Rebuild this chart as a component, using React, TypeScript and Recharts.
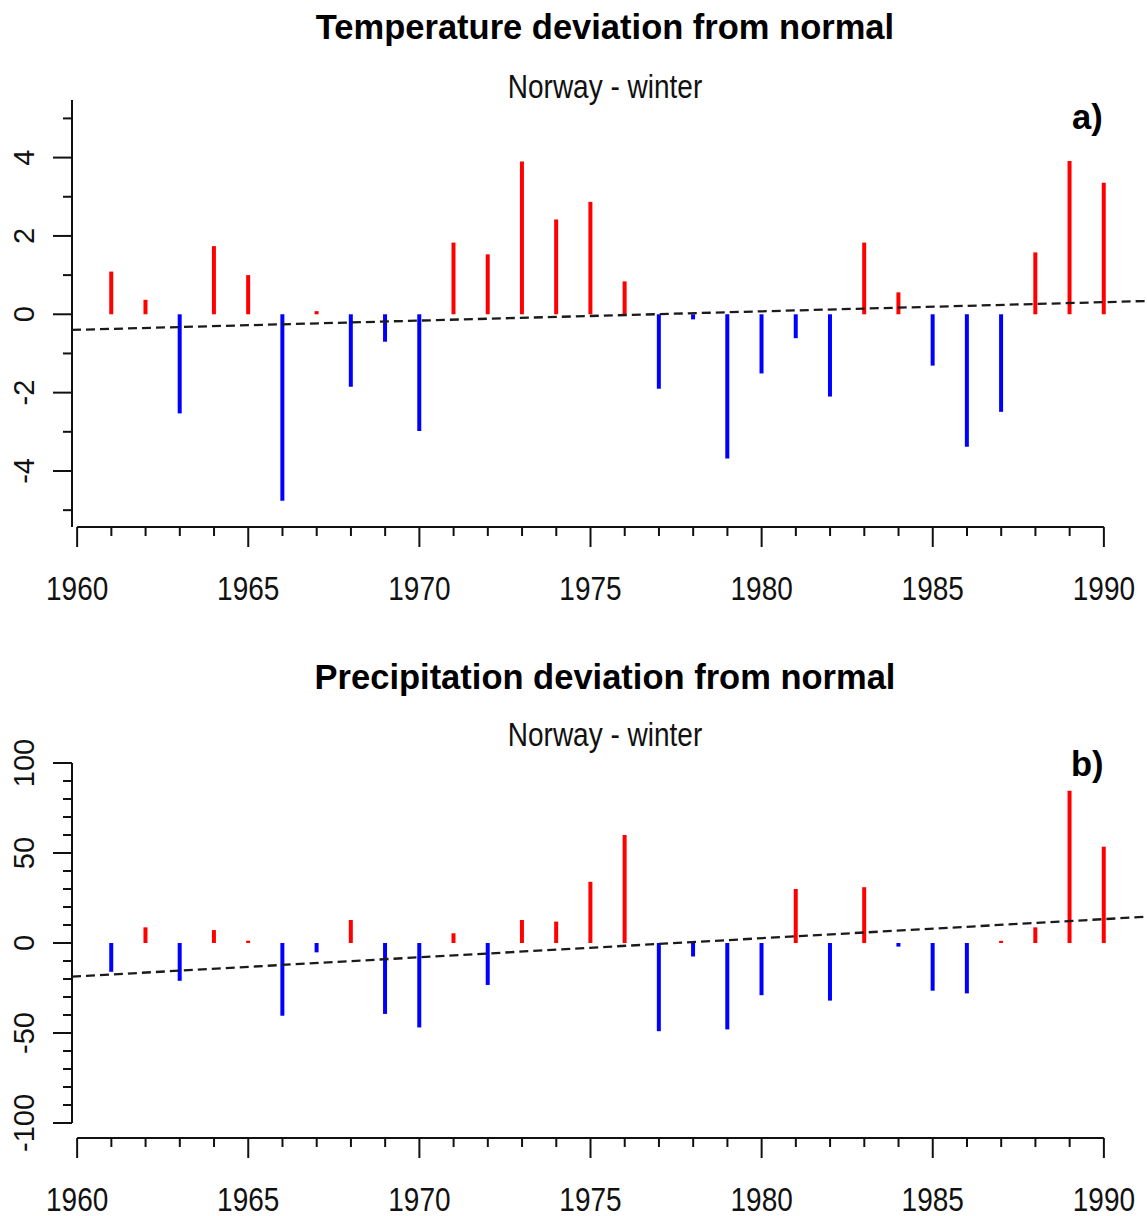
import { Bar, Cell, ComposedChart, Line, ReferenceLine, XAxis, YAxis } from 'recharts'

const INK = '#111111'
const RED = '#FF0000'
const BLUE = '#0000FF'
const FONT = '"Liberation Sans", Arial, Helvetica, sans-serif'
const WIDTH = 1147

// winter seasons 1961-1990
const YEARS = [
  1961, 1962, 1963, 1964, 1965, 1966, 1967, 1968, 1969, 1970, 1971, 1972, 1973, 1974, 1975,
  1976, 1977, 1978, 1979, 1980, 1981, 1982, 1983, 1984, 1985, 1986, 1987, 1988, 1989, 1990,
]
// temperature deviation, deg C
const TEMP_DEV = [
  1.09, 0.37, -2.53, 1.74, 1.0, -4.76, 0.08, -1.85, -0.7, -2.98, 1.83, 1.53, 3.9, 2.42, 2.87,
  0.84, -1.9, -0.13, -3.68, -1.51, -0.61, -2.1, 1.83, 0.56, -1.31, -3.38, -2.49, 1.58, 3.91, 3.36,
]
// precipitation deviation, %
const PRECIP_DEV = [
  -16, 8.7, -21, 7.2, 1.3, -40.4, -5.2, 12.8, -39.4, -46.9, 5.4, -23.3, 12.8, 11.9, 34,
  60, -49, -7.5, -48, -29, 30, -32, 31, -2, -26.5, -28, 1.2, 8.7, 84.6, 53.5,
]

// linear trend, drawn across the whole plot region
const TREND_YEARS = [1959.85, 1991.26]
const TEMP_TREND = [-0.4, 0.34]
const PRECIP_TREND = [-18.7, 14.6]

const X_TICKS = Array.from({ length: 31 }, (_, i) => 1960 + i)
const X_LABELS = [1960, 1965, 1970, 1975, 1980, 1985, 1990]
const TEMP_TICKS = [-5, -4, -3, -2, -1, 0, 1, 2, 3, 4, 5]
const TEMP_LABELS = [-4, -2, 0, 2, 4]
const PRECIP_TICKS = [-100, -90, -80, -70, -60, -50, -40, -30, -20, -10, 0, 10, 20, 30, 40, 50, 60, 70, 80, 90, 100]
const PRECIP_LABELS = [-100, -50, 0, 50, 100]

type TickProps = { x: number; y: number; payload: { value: number } }

function XTick({ x, y, payload }: TickProps) {
  const major = X_LABELS.includes(payload.value)
  return (
    <g>
      <line x1={x} x2={x} y1={y} y2={y + (major ? 20 : 9)} stroke={INK} strokeWidth={2} />
      {major && (
        <text
          transform={`translate(${x},${y + 73}) scale(1,1.17)`}
          textAnchor="middle"
          fontFamily={FONT}
          fontSize={28}
          fill={INK}
        >
          {payload.value}
        </text>
      )}
    </g>
  )
}

function makeYTick(labels: number[]) {
  return function YTick({ x, y, payload }: TickProps) {
    const major = labels.includes(payload.value)
    return (
      <g>
        <line x1={x - (major ? 19 : 9)} x2={x} y1={y} y2={y} stroke={INK} strokeWidth={2} />
        {major && (
          <text
            transform={`translate(${x - 38.5},${y}) rotate(-90)`}
            textAnchor="middle"
            fontFamily={FONT}
            fontSize={29}
            fill={INK}
          >
            {payload.value}
          </text>
        )}
      </g>
    )
  }
}

function DeviationPanel({
  values,
  trend,
  domain,
  ticks,
  labels,
  axisSpan,
  top,
  height,
  xAxisHeight,
}: {
  values: number[]
  trend: number[]
  domain: [number, number]
  ticks: number[]
  labels: number[]
  axisSpan: [number, number]
  top: number
  height: number
  xAxisHeight: number
}) {
  const data = YEARS.map((year, i) => ({ year, value: values[i] }))
  const trendData = TREND_YEARS.map((year, i) => ({ year, trend: trend[i] }))
  const xMin = TREND_YEARS[0]
  return (
    <ComposedChart
      width={WIDTH}
      height={height}
      data={data}
      margin={{ top, right: 0, left: 0, bottom: 0 }}
    >
      <XAxis
        dataKey="year"
        type="number"
        domain={[TREND_YEARS[0], TREND_YEARS[1]]}
        allowDataOverflow
        ticks={X_TICKS}
        interval={0}
        axisLine={false}
        tickLine={false}
        tickSize={0}
        tickMargin={0}
        height={xAxisHeight}
        tick={(p: TickProps) => <XTick {...p} />}
      />
      <YAxis
        type="number"
        domain={domain}
        allowDataOverflow
        ticks={ticks}
        interval={0}
        axisLine={false}
        tickLine={false}
        tickSize={0}
        tickMargin={0}
        width={72}
        tick={makeYTick(labels)}
      />
      <ReferenceLine
        segment={[{ x: 1960, y: domain[0] }, { x: 1990, y: domain[0] }]}
        stroke={INK}
        strokeWidth={2}
        ifOverflow="visible"
      />
      <ReferenceLine
        segment={[{ x: xMin, y: axisSpan[0] }, { x: xMin, y: axisSpan[1] }]}
        stroke={INK}
        strokeWidth={2}
        ifOverflow="visible"
      />
      <Bar dataKey="value" barSize={4} isAnimationActive={false}>
        {data.map((d) => (
          <Cell key={d.year} fill={d.value >= 0 ? RED : BLUE} />
        ))}
      </Bar>
      <Line
        data={trendData}
        dataKey="trend"
        type="linear"
        stroke="#1a1a1a"
        strokeWidth={2.3}
        strokeDasharray="9 5"
        dot={false}
        activeDot={false}
        isAnimationActive={false}
      />
    </ComposedChart>
  )
}

function Headings() {
  const regular = { fontFamily: FONT, fontSize: 28, fill: INK, textAnchor: 'middle' as const }
  const bold = { fontFamily: FONT, fontSize: 34.5, fontWeight: 700, fill: '#000' }
  return (
    <svg
      width={WIDTH}
      height={1216}
      style={{ position: 'absolute', left: 0, top: 0, pointerEvents: 'none' }}
    >
      <text x={605} y={39} textAnchor="middle" {...bold}>Temperature deviation from normal</text>
      <text transform="translate(605,98) scale(1,1.17)" {...regular}>Norway - winter</text>
      <text x={1072} y={129} {...bold}>a)</text>
      <text x={605} y={689} textAnchor="middle" {...bold}>Precipitation deviation from normal</text>
      <text transform="translate(605,746) scale(1,1.17)" {...regular}>Norway - winter</text>
      <text x={1071} y={776} {...bold}>b)</text>
    </svg>
  )
}

export default function App() {
  return (
    <div style={{ position: 'absolute', left: 0, top: 0, width: WIDTH, height: 1216, background: '#fff' }}>
      <div style={{ position: 'absolute', left: 0, top: 0 }}>
        <DeviationPanel
          values={TEMP_DEV}
          trend={TEMP_TREND}
          domain={[-5.43, 5.47]}
          ticks={TEMP_TICKS}
          labels={TEMP_LABELS}
          axisSpan={[-5.43, 5.47]}
          top={100}
          height={607}
          xAxisHeight={80}
        />
      </div>
      <div style={{ position: 'absolute', left: 0, top: 607 }}>
        <DeviationPanel
          values={PRECIP_DEV}
          trend={PRECIP_TREND}
          domain={[-108.33, 100]}
          ticks={PRECIP_TICKS}
          labels={PRECIP_LABELS}
          axisSpan={[-100, 100]}
          top={156}
          height={609}
          xAxisHeight={78}
        />
      </div>
      <Headings />
    </div>
  )
}
